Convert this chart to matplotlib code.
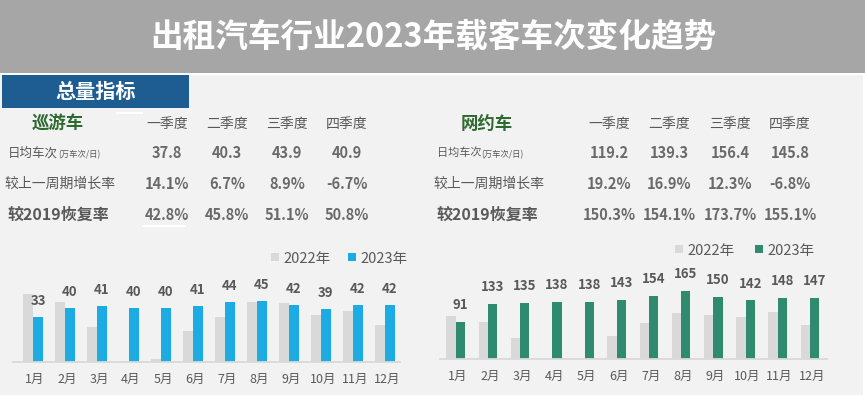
import matplotlib
matplotlib.use('Agg')
import matplotlib.pyplot as plt
from matplotlib.patches import Rectangle

plt.rcParams['font.family'] = ['Noto Sans CJK SC', 'DejaVu Sans']

# ---------------- data ----------------
months = ['1月', '2月', '3月', '4月', '5月', '6月', '7月', '8月', '9月', '10月', '11月', '12月']
taxi_2022 = [50, 44.5, 25.5, 1, 2.3, 23, 33, 44.5, 43.5, 35, 37.5, 27]
taxi_2023 = [33, 40, 41, 40, 40, 41, 44, 45, 42, 39, 42, 42]
ride_2022 = [105, 91, 51, 1, 0, 57, 88, 111, 108, 103, 114, 83]
ride_2023 = [91, 133, 135, 138, 138, 143, 154, 165, 150, 142, 148, 147]
series_names = ['2022年', '2023年']

quarters = ['一季度', '二季度', '三季度', '四季度']
row_labels = ['日均车次', '较上一周期增长率', '较2019恢复率']
unit_label = '(万车次/日)'
taxi_daily = ['37.8', '40.3', '43.9', '40.9']
taxi_growth = ['14.1%', '6.7%', '8.9%', '-6.7%']
taxi_recovery = ['42.8%', '45.8%', '51.1%', '50.8%']
ride_daily = ['119.2', '139.3', '156.4', '145.8']
ride_growth = ['19.2%', '16.9%', '12.3%', '-6.8%']
ride_recovery = ['150.3%', '154.1%', '173.7%', '155.1%']

title = '出租汽车行业2023年载客车次变化趋势'

# ---------------- figure ----------------
W, H = 865, 395
fig = plt.figure(figsize=(8.65, 3.95), dpi=100)
fig.patch.set_facecolor('#f2f2f2')

bg = fig.add_axes([0, 0, 1, 1])
bg.set_xlim(0, W)
bg.set_ylim(H, 0)
bg.axis('off')
bg.set_zorder(0)

GRAY22 = '#d9d9d9'
BLUE = '#1aace3'
GREEN = '#2e8b6e'
TXT = '#595959'
VAL = '#6a6a6a'
DKGREEN = '#2e6a2f'

# banner
bg.add_patch(Rectangle((0, 0), W, 73, color='#a6a6a6', lw=0))
bg.add_patch(Rectangle((0, 73), W, 2, color='white', lw=0))
bg.add_patch(Rectangle((863, 73), 2, H - 73, color='white', lw=0))
bg.text(433, 37, title, color='white', fontsize=23.5, fontweight='bold',
        ha='center', va='center')

# blue box
bg.add_patch(Rectangle((2, 75), 187, 33, color='#1d5d92', lw=0))
bg.text(96, 91, '总量指标', color='white', fontsize=14.5, fontweight='bold',
        ha='center', va='center')
bg.plot([117, 142], [113, 113], color='white', lw=1.5)
bg.plot([143, 185], [226, 226], color='white', lw=1.5)


def table(name, name_x, cols_x, label_x, daily, growth, recov, daily_fs):
    bg.text(name_x, 124, name, color=DKGREEN, fontsize=12.5, fontweight='bold',
            ha='center', va='center')
    for q, x in zip(quarters, cols_x):
        bg.text(x, 124, q, color=TXT, fontsize=10, ha='center', va='center')
    t = bg.text(label_x, 153, row_labels[0], color=TXT, fontsize=daily_fs,
                ha='left', va='center')
    fig.canvas.draw()
    bb = t.get_window_extent()
    bg.text(label_x + bb.width, 155, unit_label, color=TXT, fontsize=6,
            ha='left', va='center')
    bg.text(label_x - 4, 184, row_labels[1], color=TXT, fontsize=10,
            ha='left', va='center')
    bg.text(label_x, 215, row_labels[2], color=TXT, fontsize=11.5,
            fontweight='bold', ha='left', va='center')
    for vals, y in zip([daily, growth, recov], [153, 184, 215]):
        for v, x in zip(vals, cols_x):
            bg.text(x, y, v, color=VAL, fontsize=10.5, fontweight='bold',
                    ha='center', va='center')


table('巡游车', 58, [167, 227, 287, 347], 8, taxi_daily, taxi_growth, taxi_recovery, 9)
table('网约车', 487, [609, 669, 730, 790], 437, ride_daily, ride_growth, ride_recovery, 8)


# ---------------- charts ----------------
def chart(x0, x1, ytop, ybase, xlim, ymax, d22, d23, col, width, lab_off):
    ax = fig.add_axes([x0 / W, 1 - ybase / H, (x1 - x0) / W, (ybase - ytop) / H])
    ax.set_zorder(1)
    ax.patch.set_alpha(0)
    idx = list(range(len(months)))
    ax.bar([i - width / 2 for i in idx], d22, width, color=GRAY22, lw=0)
    ax.bar([i + width / 2 for i in idx], d23, width, color=col, lw=0)
    for i, v in zip(idx, d23):
        ax.annotate(f'{v:g}', (i + width / 2, v), xytext=(0, lab_off),
                    textcoords='offset points', ha='center', va='center',
                    fontsize=9.5, fontweight='bold', color=TXT)
    ax.set_xlim(*xlim)
    ax.set_ylim(0, ymax)
    for s in ['top', 'left', 'right']:
        ax.spines[s].set_visible(False)
    ax.spines['bottom'].set_color('#d9d9d9')
    ax.spines['bottom'].set_linewidth(1.3)
    ax.set_yticks([])
    ax.set_xticks([i + 0.06 for i in idx])
    ax.set_xticklabels(months, fontsize=9, color=TXT)
    ax.tick_params(axis='x', length=0, pad=8)
    return ax


chart(13, 400, 235, 362, (-0.625, 11.47), 127 / 1.356, taxi_2022, taxi_2023,
      BLUE, 0.31, 11.5)
chart(440, 827, 235, 359, (-0.488, 11.53), 124 / 0.412, ride_2022, ride_2023,
      GREEN, 0.29, 12.2)


# legends
def legend(sx1, sx2, ytop, col):
    for sx, c, nm in [(sx1, GRAY22, series_names[0]), (sx2, col, series_names[1])]:
        bg.add_patch(Rectangle((sx, ytop), 8, 8, color=c, lw=0))
        bg.text(sx + 12, ytop + 6, nm, color=TXT, fontsize=10.5,
                ha='left', va='center')


legend(271, 348, 253, BLUE)
legend(675, 755, 245, GREEN)

fig.savefig('out.png', dpi=100, facecolor=fig.get_facecolor())
